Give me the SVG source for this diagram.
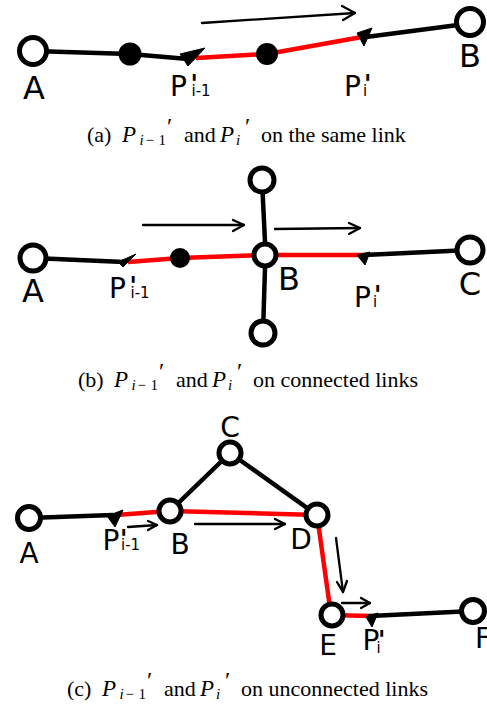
<svg xmlns="http://www.w3.org/2000/svg" width="487" height="707" viewBox="0 0 487 707">
<style>
.lk{fill:none;stroke:#000;stroke-width:4.5;stroke-linecap:round;stroke-linejoin:round}
.rd{fill:none;stroke:#f00;stroke-width:4.5;stroke-linecap:butt;stroke-linejoin:round}
.ar{fill:none;stroke:#000;stroke-width:2.3;stroke-linecap:round;stroke-linejoin:round}
.tri{fill:#000;stroke:#000;stroke-width:1;stroke-linejoin:round}
.nd{fill:#fff;stroke:#000;stroke-width:5}
.dot{fill:#000}
.lbl{font-family:"DejaVu Sans",sans-serif;font-size:32px;fill:#000}
.lbs{font-family:"DejaVu Sans",sans-serif;font-size:28px;fill:#000}
.pl{font-family:"DejaVu Sans",sans-serif;font-size:28px;fill:#000}
.sub{font-size:15px}
.pr{font-size:24px;font-weight:bold}
.cap{font-family:"Liberation Serif",serif;font-size:22px;fill:#000}
.it{font-style:italic}
.mp{font-style:italic;font-size:23px}
.cs{font-size:15px}
.cp{font-size:24px}
</style>
<g id="connectors">
  <!-- panel a -->
  <polyline class="lk" points="33,51 130,54 188,59"/>
  <polyline class="rd" points="196,58 267,54 362,37"/>
  <line class="lk" x1="458" y1="25" x2="366" y2="37"/>
  <polygon class="tri" points="180,54 205,48 188,66"/>
  <polygon class="tri" points="357,33 372,28 364,46"/>
  <line class="ar" x1="202" y1="23" x2="355" y2="13"/>
  <polyline class="ar" points="342,6 355,13 343,20"/>
  <!-- panel b -->
  <line class="lk" x1="33" y1="258" x2="124" y2="262"/>
  <polyline class="rd" points="128,262 180,258 262,255"/>
  <polygon class="tri" points="118,262 136,254 123,267"/>
  <line class="rd" x1="262" y1="255" x2="364" y2="255"/>
  <line class="lk" x1="364" y1="255" x2="470" y2="250"/>
  <polygon class="tri" points="357,255 370,252 365,265"/>
  <line class="lk" x1="262" y1="180" x2="265" y2="242"/>
  <line class="lk" x1="265" y1="268" x2="263" y2="333"/>
  <line class="ar" x1="143" y1="225" x2="244" y2="225"/>
  <polyline class="ar" points="233,220 244,225 233,231"/>
  <line class="ar" x1="275" y1="229" x2="360" y2="228"/>
  <polyline class="ar" points="349,223 360,228 349,234"/>
  <!-- panel c -->
  <line class="lk" x1="29" y1="518" x2="113" y2="515"/>
  <line class="rd" x1="116" y1="515" x2="170" y2="511"/>
  <polygon class="tri" points="107,516 123,510 115,527"/>
  <line class="lk" x1="170" y1="511" x2="230" y2="453"/>
  <line class="lk" x1="230" y1="453" x2="317" y2="515"/>
  <line class="rd" x1="170" y1="511" x2="317" y2="515"/>
  <line class="rd" x1="317" y1="515" x2="331" y2="615"/>
  <line class="rd" x1="331" y1="615" x2="370" y2="616"/>
  <line class="lk" x1="370" y1="616" x2="473" y2="611"/>
  <polygon class="tri" points="366,617 378,613 372,627"/>
  <line class="ar" x1="128" y1="527" x2="157" y2="525"/>
  <polyline class="ar" points="148,521 157,525 148,530"/>
  <line class="ar" x1="195" y1="524" x2="285" y2="524"/>
  <polyline class="ar" points="275,519 285,524 275,529"/>
  <line class="ar" x1="336" y1="538" x2="343" y2="592"/>
  <polyline class="ar" points="337,582 343,592 347,581"/>
  <line class="ar" x1="342" y1="603" x2="370" y2="603"/>
  <polyline class="ar" points="361,598 370,603 361,608"/>
</g>
<g id="a-A"><circle class="nd" cx="33" cy="51" r="13.5"/><text class="lbl" x="34" y="99" text-anchor="middle">A</text></g>
<g id="a-p1"><circle class="dot" cx="130" cy="54" r="11.5"/></g>
<g id="a-p2"><circle class="dot" cx="267" cy="54" r="11"/></g>
<g id="a-B"><circle class="nd" cx="470" cy="22" r="13.5"/><text class="lbl" x="470" y="67" text-anchor="middle">B</text></g>
<g id="a-Pim1"><text class="pl" x="170" y="96">P<tspan class="pr" x="190.5" y="92">'</tspan><tspan class="sub" x="191.5" y="96">i-1</tspan></text></g>
<g id="a-Pi"><text class="pl" x="344" y="96">P<tspan class="pr" x="364" y="92">'</tspan><tspan class="sub" x="363" y="96">i</tspan></text></g>
<text class="cap" y="142"><tspan x="87">(a)</tspan><tspan class="mp" x="122">P</tspan><tspan class="cs it" x="139.5" y="145">i</tspan><tspan class="cs" x="145.5">−</tspan><tspan class="cs" x="158.5">1</tspan><tspan class="cp" x="167" y="134">′</tspan><tspan x="184" y="142">and</tspan><tspan class="mp" x="220">P</tspan><tspan class="cs it" x="236" y="145">i</tspan><tspan class="cp" x="245" y="134">′</tspan><tspan x="261" y="142">on the same link</tspan></text>

<g id="b-A"><circle class="nd" cx="33" cy="258" r="13"/><text class="lbl" x="33" y="302" text-anchor="middle">A</text></g>
<g id="b-p1"><circle class="dot" cx="180" cy="258" r="10"/></g>
<g id="b-B"><circle class="nd" cx="265" cy="255" r="11"/><text class="lbl" x="289" y="290" text-anchor="middle">B</text></g>
<g id="b-T"><circle class="nd" cx="262" cy="180" r="12"/></g>
<g id="b-D"><circle class="nd" cx="263" cy="333" r="12"/></g>
<g id="b-C"><circle class="nd" cx="470" cy="250" r="13"/><text class="lbl" x="470" y="295" text-anchor="middle">C</text></g>
<g id="b-Pim1"><text class="pl" x="109" y="298">P<tspan class="pr" x="129.5" y="294">'</tspan><tspan class="sub" x="130.5" y="298">i-1</tspan></text></g>
<g id="b-Pi"><text class="pl" x="354" y="307">P<tspan class="pr" x="374" y="303">'</tspan><tspan class="sub" x="373" y="307">i</tspan></text></g>
<text class="cap" y="387"><tspan x="78">(b)</tspan><tspan class="mp" x="114">P</tspan><tspan class="cs it" x="131.5" y="390">i</tspan><tspan class="cs" x="137.5">−</tspan><tspan class="cs" x="150.5">1</tspan><tspan class="cp" x="159" y="379">′</tspan><tspan x="176" y="387">and</tspan><tspan class="mp" x="212">P</tspan><tspan class="cs it" x="228" y="390">i</tspan><tspan class="cp" x="237" y="379">′</tspan><tspan x="253" y="387">on connected links</tspan></text>

<g id="c-A"><circle class="nd" cx="29" cy="518" r="11.5"/><text class="lbs" x="29" y="563" text-anchor="middle">A</text></g>
<g id="c-B"><circle class="nd" cx="170" cy="511" r="11"/><text class="lbs" x="180" y="554" text-anchor="middle">B</text></g>
<g id="c-C"><circle class="nd" cx="230" cy="453" r="11"/><text class="lbs" x="230" y="437" text-anchor="middle">C</text></g>
<g id="c-D"><circle class="nd" cx="317" cy="515" r="11"/><text class="lbs" x="301" y="549" text-anchor="middle">D</text></g>
<g id="c-E"><circle class="nd" cx="332" cy="615" r="11"/><text class="lbs" x="328" y="655" text-anchor="middle">E</text></g>
<g id="c-F"><circle class="nd" cx="473" cy="611" r="11.5"/><text class="lbs" x="475" y="648">F</text></g>
<g id="c-Pim1"><text class="pl" x="102.5" y="550" font-size="24">P<tspan class="pr" x="120" y="547" font-size="20">'</tspan><tspan class="sub" x="121" y="550" font-size="13">i-1</tspan></text></g>
<g id="c-Pi"><text class="pl" x="362.5" y="650" font-size="23">P<tspan class="pr" x="378" y="648" font-size="20">'</tspan><tspan class="sub" x="376.5" y="653" font-size="12">i</tspan></text></g>
<text class="cap" y="696"><tspan x="67">(c)</tspan><tspan class="mp" x="102">P</tspan><tspan class="cs it" x="119.5" y="699">i</tspan><tspan class="cs" x="125.5">−</tspan><tspan class="cs" x="138.5">1</tspan><tspan class="cp" x="147" y="688">′</tspan><tspan x="164" y="696">and</tspan><tspan class="mp" x="200">P</tspan><tspan class="cs it" x="216" y="699">i</tspan><tspan class="cp" x="225" y="688">′</tspan><tspan x="241" y="696">on unconnected links</tspan></text>
</svg>
